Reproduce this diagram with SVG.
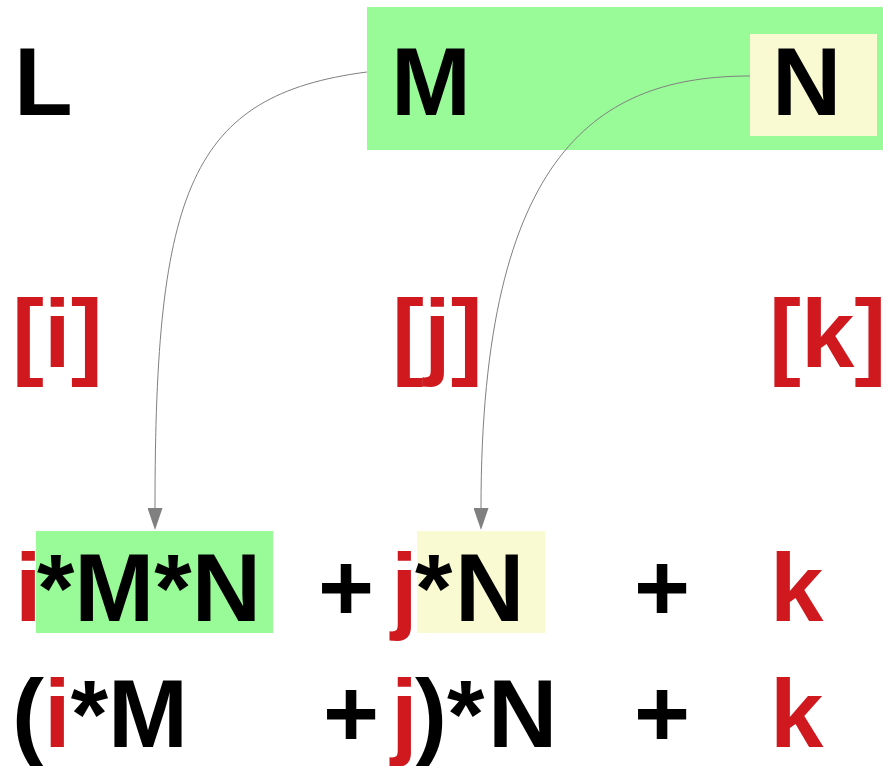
<svg xmlns="http://www.w3.org/2000/svg" width="883" height="766" viewBox="0 0 883 766">
<style>
text{font-family:"Liberation Sans",Arial,sans-serif;font-weight:bold;font-size:96px;fill:#000}
.r{fill:#d0191f}
.g{fill:#98fb98}
.y{fill:#fafad2}
.c{fill:none;stroke:#808080;stroke-width:1}
</style>
<defs>
<marker id="ah" viewBox="0 0 22 15" refX="0" refY="7.5" markerWidth="22" markerHeight="15" markerUnits="userSpaceOnUse" orient="auto">
<path d="M0,0 L22,7.5 L0,15 Z" fill="#808080"/>
</marker>
</defs>
<rect width="883" height="766" fill="#fff"/>
<g id="L"><text x="14" y="115">L</text></g>
<g id="M"><rect class="g" x="367" y="7" width="516" height="143"/><text x="391" y="115">M</text></g>
<g id="N"><rect class="y" x="750" y="34" width="127" height="102"/><text x="772" y="115">N</text></g>
<g id="idx-i"><text class="r" x="12" y="367">[i]</text></g>
<g id="idx-j"><text class="r" x="392" y="367">[j]</text></g>
<g id="idx-k"><text class="r" x="769" y="367">[k]</text></g>
<g id="row3">
<rect class="g" x="36" y="531" width="237" height="102"/>
<rect class="y" x="417" y="531" width="128" height="102"/>
<text x="15" y="621"><tspan class="r">i</tspan><tspan x="37">*M*N</tspan></text>
<text x="318" y="621">+</text>
<text x="391" y="621"><tspan class="r">j</tspan><tspan x="415">*</tspan><tspan x="455">N</tspan></text>
<text x="634" y="621">+</text>
<text class="r" x="770" y="621">k</text>
</g>
<g id="row4">
<text x="12" y="747">(<tspan class="r">i</tspan>*M</text>
<text x="323" y="747">+</text>
<text x="391" y="747"><tspan class="r">j</tspan><tspan x="415">)*</tspan><tspan x="488">N</tspan></text>
<text x="634" y="747">+</text>
<text class="r" x="770" y="747">k</text>
</g>
<g id="connectors">
<path class="c" d="M367,72 C190,95 155,190 155,508" marker-end="url(#ah)"/>
<path class="c" d="M750,76 C600,76 481,150 481,508" marker-end="url(#ah)"/>
</g>
</svg>
